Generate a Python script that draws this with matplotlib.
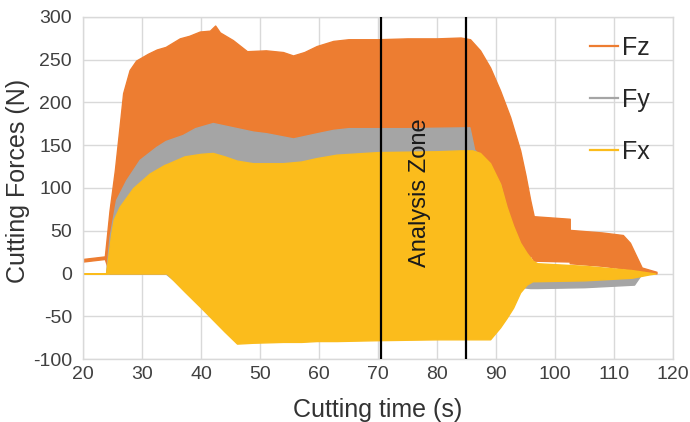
import matplotlib
matplotlib.use("Agg")
import matplotlib.pyplot as plt
from matplotlib.lines import Line2D
import numpy as np

plt.rcParams['font.family'] = ['Liberation Sans', 'DejaVu Sans']
plt.rcParams['axes.unicode_minus'] = False

# ---- data: envelopes (time s, upper N, lower N) ----
fz_t  = [20.0, 23.7, 24.5, 25.4, 26.2, 26.8, 27.9, 29.0, 31.0, 32.5, 34.0, 36.4, 38.0, 39.8, 41.5, 42.4, 43.2,
         45.4, 47.8, 51.0, 53.9, 55.6, 57.5, 59.6, 62.4, 65.0, 70.0, 75.0, 80.0, 84.0, 85.6, 87.3, 89.0,
         90.7, 92.4, 94.1, 95.0, 95.8, 96.4, 102.5, 102.5, 108.0, 111.5, 112.7, 113.8, 114.7, 117.2]
fz_hi = [17, 20, 74, 121, 172, 211, 238, 249, 257, 262, 265, 275, 278, 283, 284, 290, 282,
         273, 260, 261, 259, 255, 259, 266, 272, 274, 274, 275, 275, 276, 274, 261, 241,
         214, 183, 144, 115, 86, 67, 64, 51, 48, 45, 36, 20, 7, 2]
fz_lo = [14, 17, 0, 0, 0, 0, 0, 0, 0, 0, 0, 0, 0, 0, 0, 0, 0,
         0, 0, 0, 0, 0, 0, 0, 0, 0, 0, 0, 0, 0, 0, 0, 0,
         0, 0, 0, 0, 22, 15, 14, 12, 9, 6, 5, 4, 3, 0]

fy_t  = [20.0, 23.9, 24.5, 25.6, 27.3, 29.6, 32.4, 34.0, 36.9, 39.0, 42.0, 45.4, 48.8, 51.1, 55.6, 59.6,
         62.4, 65.0, 75.0, 85.5, 86.3, 87.3, 89.0, 90.7, 91.8, 92.9, 94.4, 95.8, 97.0, 105.0, 113.4,
         114.0, 114.6, 115.0]
fy_hi = [0, 0, 43, 86, 109, 133, 148, 155, 162, 170, 176, 171, 166, 164, 158, 164,
         168, 170, 170, 171, 145, 138, 125, 104, 75, 52, 30, 15, 5, 3, 2,
         1, 0, 0]
fy_lo = [0, 0, 0, 0, 0, 0, 0, 0, -16, -16, -16, -16, -16, -16, -16, -16,
         -16, -16, -16, -16, -16, -16, -16, -16, -16, -16, -16, -17, -17, -16, -13,
         -7, -1, 0]

fx_t  = [20.0, 23.9, 24.8, 25.2, 26.2, 28.5, 31.3, 33.8, 34.2, 37.2, 40.0, 42.0, 44.0, 46.1, 48.8, 53.9,
         57.0, 59.6, 63.0, 70.0, 80.0, 84.0, 86.0, 87.3, 89.0, 90.7, 91.8, 92.9, 94.1, 95.2, 96.2,
         97.0, 105.0, 113.0, 116.0, 117.0]
fx_hi = [0, 0, 47, 63, 78, 100, 117, 127, 128, 137, 140, 141, 137, 132, 129, 129,
         131, 135, 139, 142, 143, 144, 144, 141, 129, 105, 78, 56, 36, 24, 15,
         12, 9, 4, 1, 0]
fx_lo = [0, 0, 0, 0, 0, 0, 0, 0, 0, -21, -40, -54, -68, -82, -81, -80,
         -80, -79, -79, -78, -77, -77, -77, -77, -77, -63, -52, -40, -22, -13, -9,
         -9, -8, -5, -1, 0]

zone_lines = [70.5, 84.9]
series_names = ['Fz', 'Fy', 'Fx']
colors = ['#ED7D31', '#A5A5A5', '#FBBC1C']

x_ticks = list(range(20, 121, 10))
y_ticks = list(range(-100, 301, 50))

# ---- figure ----
fig = plt.figure(figsize=(6.9, 4.22), dpi=100)
ax = fig.add_axes([83/690, 1-359/422, 590/690, 342/422])

ax.set_xlim(20, 120)
ax.set_ylim(-100, 300)
ax.set_xticks(x_ticks)
ax.set_yticks(y_ticks)
ax.grid(True, color='#D9D9D9', linewidth=1.0)
ax.set_axisbelow(True)
for s in ax.spines.values():
    s.set_color('#D9D9D9')
    s.set_linewidth(1.0)
ax.tick_params(axis='both', length=0, labelsize=14, colors='#404040')
ax.tick_params(axis='y', pad=8)
ax.tick_params(axis='x', pad=5)

for (t, hi, lo), c in zip([(fz_t, fz_hi, fz_lo), (fy_t, fy_hi, fy_lo), (fx_t, fx_hi, fx_lo)], colors):
    ax.fill_between(t, lo, hi, facecolor=c, edgecolor=c, linewidth=1.0, zorder=2)

for xv in zone_lines:
    ax.axvline(xv, color='black', linewidth=1.6, zorder=3)

ax.text(77.1, 94, 'Analysis Zone', rotation=90, ha='center', va='center',
        fontsize=17, color='#1a1a1a', zorder=4)

fig.text(18/690, 1-181/422, 'Cutting Forces (N)', rotation=90, ha='center', va='center',
         fontsize=18, color='#333333')
fig.text(378/690, 1-417/422, 'Cutting time (s)', ha='center', va='baseline',
         fontsize=18, color='#333333')

handles = [Line2D([0], [0], color=c, linewidth=1.6) for c in colors]
leg = ax.legend(handles, series_names, loc='upper left', bbox_to_anchor=(590/690, 1-36/422),
                bbox_transform=fig.transFigure, frameon=False, fontsize=18,
                handlelength=1.12, handletextpad=0.18, labelspacing=1.12,
                borderpad=0, borderaxespad=0)
for txt in leg.get_texts():
    txt.set_color('#262626')

fig.savefig('out.png', dpi=100)
